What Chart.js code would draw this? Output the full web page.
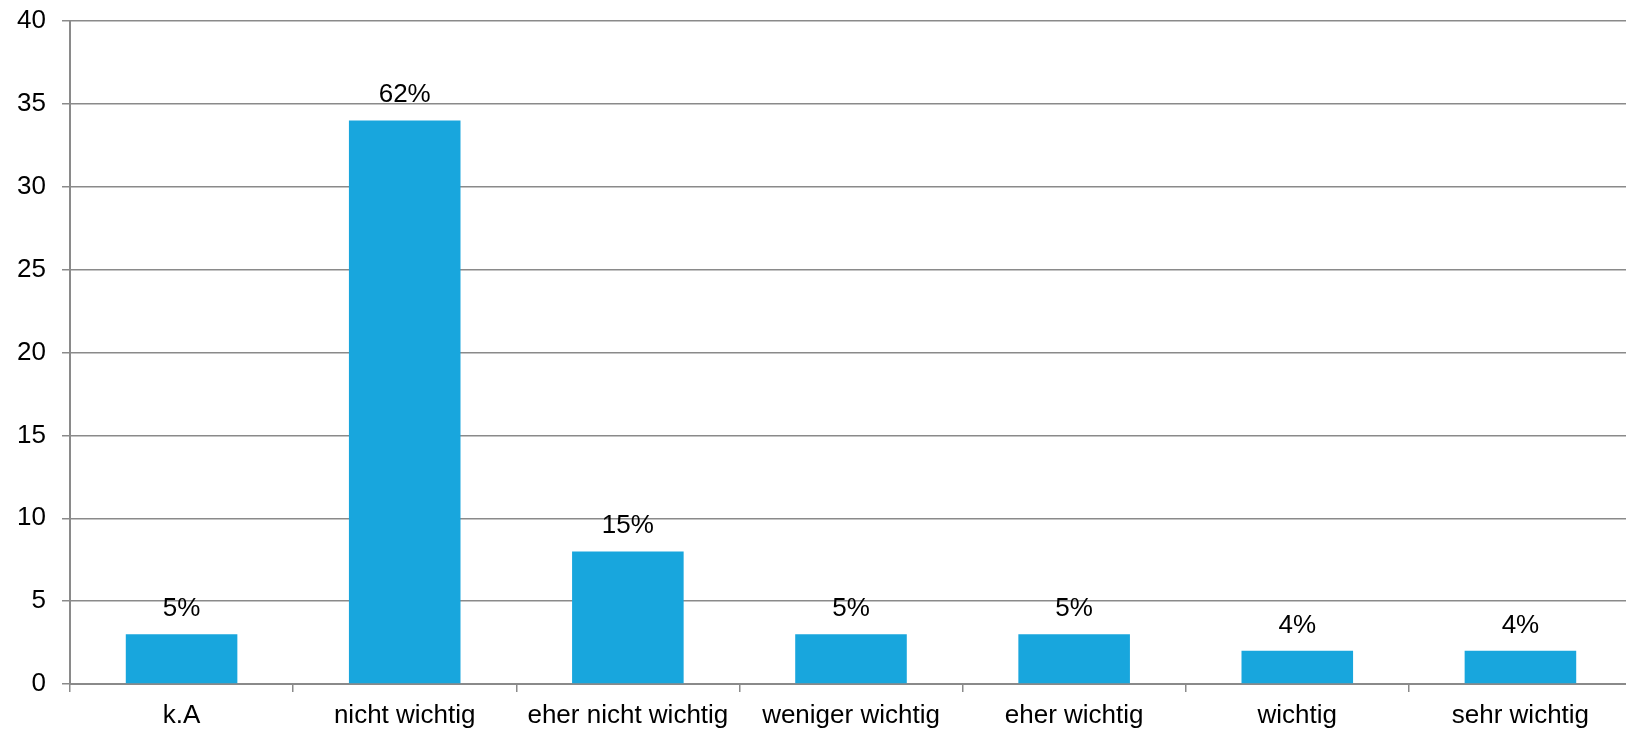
<!DOCTYPE html>
<html>
<head>
<meta charset="utf-8">
<script src="https://cdn.jsdelivr.net/npm/chart.js@4"></script>
<style>
html,body{margin:0;padding:0;background:#fff;overflow:hidden;}
#wrap{position:relative;width:1632px;height:732px;}
</style>
</head>
<body>
<div id="wrap"><canvas id="c" width="1632" height="732"></canvas></div>
<script>
const categories = ["k.A", "nicht wichtig", "eher nicht wichtig", "weniger wichtig", "eher wichtig", "wichtig", "sehr wichtig"];
const counts = [3, 34, 8, 3, 3, 2, 2];
const percentLabels = ["5%", "62%", "15%", "5%", "5%", "4%", "4%"];
const yTicks = [0, 5, 10, 15, 20, 25, 30, 35, 40];

const FONT = "'Liberation Sans', Arial, Helvetica, sans-serif";
const GRID = "#8a8a8a";

const barLabels = {
  id: 'barLabels',
  afterDatasetsDraw(chart) {
    const ctx = chart.ctx;
    const meta = chart.getDatasetMeta(0);
    ctx.save();
    ctx.font = "26px " + FONT;
    ctx.fillStyle = "#000";
    ctx.textAlign = "center";
    ctx.textBaseline = "alphabetic";
    meta.data.forEach((bar, i) => {
      ctx.fillText(percentLabels[i], bar.x, bar.y - 18);
    });
    ctx.restore();
  }
};

new Chart(document.getElementById('c'), {
  type: 'bar',
  data: {
    labels: categories,
    datasets: [{
      data: counts,
      backgroundColor: "#18a6dd",
      borderWidth: 0,
      barPercentage: 0.5,
      categoryPercentage: 1.0
    }]
  },
  options: {
    responsive: false,
    animation: false,
    layout: { padding: { top: 21, right: 0, left: 0, bottom: 0 } },
    plugins: { legend: { display: false }, tooltip: { enabled: false } },
    scales: {
      x: {
        offset: true,
        grid: { display: true, drawOnChartArea: false, drawTicks: true, tickLength: 8, color: GRID, lineWidth: 1.5, offset: true },
        border: { display: true, color: GRID, width: 2 },
        ticks: { color: "#000", font: { family: FONT, size: 26 }, padding: 8, maxRotation: 0, autoSkip: false },
        afterFit(scale) { scale.height = 48; scale.paddingLeft = 0; scale.paddingRight = 0; }
      },
      y: {
        min: 0, max: 40,
        afterBuildTicks(scale) { scale.ticks = yTicks.map(v => ({ value: v })); },
        grid: { display: true, drawOnChartArea: true, drawTicks: true, tickLength: 8, color: GRID, lineWidth: 1.5 },
        border: { display: true, color: GRID, width: 2 },
        ticks: { color: "#000", font: { family: FONT, size: 26 }, padding: 16 },
        afterFit(scale) { scale.width = 70; scale.paddingTop = 0; scale.paddingBottom = 0; }
      }
    }
  },
  plugins: [barLabels]
});
</script>
</body>
</html>
